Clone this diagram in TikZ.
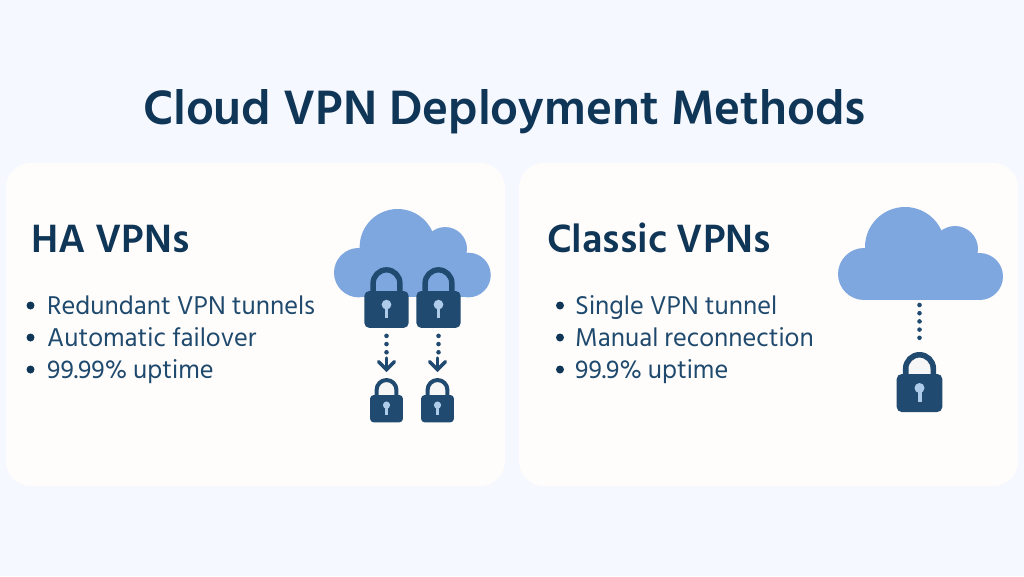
\documentclass[tikz,border=0pt]{standalone}
\usepackage{fontspec}
\setmainfont{Hind Siliguri}
\usetikzlibrary{arrows.meta}
\definecolor{pagebg}{HTML}{F5F8FF}
\definecolor{panelbg}{HTML}{FFFDFB}
\definecolor{titleblue}{HTML}{0F3557}
\definecolor{textblue}{HTML}{1F4A6E}
\definecolor{cloudblue}{HTML}{7EA6DF}
\definecolor{lockblue}{HTML}{214A70}
\definecolor{keyblue}{HTML}{AECCEA}
\definecolor{lockgap}{HTML}{F6F6F6}
\tikzset{
	panel/.style={fill=panelbg,rounded corners=25pt},
	heading/.style={anchor=base west,inner sep=0pt,text=titleblue,font=\fontsize{40.5}{40}\selectfont\bfseries},
	bullettext/.style={anchor=base west,inner sep=0pt,text=textblue,font=\fontsize{26.4}{26}\selectfont},
	tunnel/.style={lockblue,line width=4.6pt,line cap=round,dash pattern=on 0pt off 8.2pt},
	tunnelarrow/.style={lockblue,line width=3.4pt,line cap=round,-{Straight Barb[length=8pt,width=16pt,line cap=round]}}
}
% x, y, scale: cloud with left top corner at (x,y)
\newcommand{\cloudshape}[3]{
	\begin{scope}[shift={(#1,#2)},scale=#3]
		\fill[cloudblue] (67,40) circle (40);
		\fill[cloudblue] (117,42) circle (23);
		\fill[cloudblue] (26,67) circle (26);
		\fill[cloudblue] (141.5,69.5) circle (23.5);
		\fill[cloudblue] (26,50) rectangle (141.5,93);
		\fill[cloudblue] (67,40) rectangle (117,60);
	\end{scope}
}
% name, x, y (top of body, middle), scale, colour in the shackle, height of the arc centre
\newcommand{\lockshape}[6]{
	\begin{scope}[shift={(#2,#3)},scale=#4]
		\fill[#5] (-11,2) -- (-11,#6) arc (180:360:11) -- (11,2) -- cycle;
		\draw[lockblue,line width=#4*5.6pt] (-13.8,2) -- (-13.8,#6) arc (180:360:13.8) -- (13.8,2);
		\fill[lockblue,rounded corners=#4*5pt] (-22.8,0) rectangle (22.8,38);
		\fill[keyblue] (0,14) circle (5);
		\fill[keyblue] (-2,15) rectangle (2,28);
		\coordinate (#1top) at (0,#6-16.6);
		\coordinate (#1bot) at (0,38);
	\end{scope}
}
\begin{document}
\begin{tikzpicture}[x=1pt,y=-1pt,line join=round]
	\useasboundingbox (0,0) rectangle (1024,576);
	\fill[pagebg] (0,0) rectangle (1024,576);
	\fill[panel] (6,163) rectangle (505,486);
	\fill[panel] (519,163) rectangle (1018,486);
	% tieu de
	\node[anchor=base,inner sep=0pt,text=titleblue,font=\fontsize{49.5}{49}\selectfont\bfseries] (title) at (504.5,124) {Cloud VPN Deployment Methods};
	\node[heading] (haTitle) at (31,252) {HA VPNs};
	\node[heading] (classicTitle) at (547,252) {Classic VPNs};
	% ve cac dong
	\foreach \y/\name/\txt in {314/haA/Redundant VPN tunnels,346/haB/Automatic failover,378/haC/99.99\% uptime}{
		\fill[titleblue] (30.5,\y-8.5) circle (4);
		\node[bullettext] (\name) at (47,\y) {\txt};
	}
	\foreach \y/\name/\txt in {314/clA/Single VPN tunnel,346/clB/Manual reconnection,378/clC/99.9\% uptime}{
		\fill[titleblue] (560,\y-8.5) circle (4);
		\node[bullettext] (\name) at (575,\y) {\txt};
	}
	% ve may
	\cloudshape{334}{209}{0.95}
	\cloudshape{838}{207}{1}
	\coordinate (cloudB) at (919.5,300);
	% ve khoa
	\lockshape{lockA}{386.5}{291}{0.97}{cloudblue}{-8}
	\lockshape{lockB}{438.5}{291}{0.97}{cloudblue}{-8}
	\lockshape{lockC}{386.5}{395}{0.72}{lockgap}{-7}
	\lockshape{lockD}{437.5}{395}{0.72}{lockgap}{-7}
	\lockshape{lockE}{919.5}{374}{1}{lockgap}{-5.4}
	% ve duong noi
	\draw[tunnel] (lockAbot) +(0,8) -- +(0,30);
	\draw[tunnel] (lockBbot) +(0,8) -- +(0,30);
	\draw[tunnelarrow] (lockCtop) +(0,-20) -- +(0,-6);
	\draw[tunnelarrow] (lockDtop) +(0,-20) -- +(0,-6);
	\draw[tunnel,shorten <=5pt,shorten >=8pt] (cloudB) -- (lockEtop);
\end{tikzpicture}
\end{document}
